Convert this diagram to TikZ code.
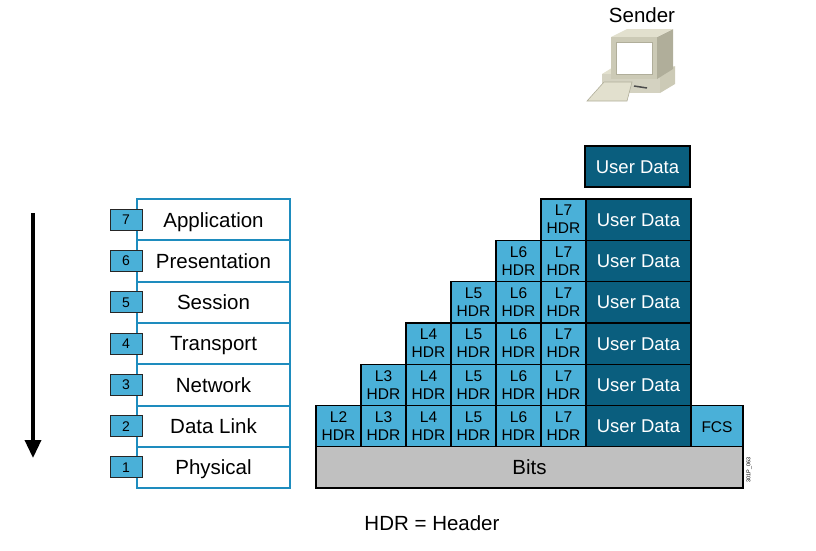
\documentclass[tikz,border=0pt]{standalone}
\usepackage{fontspec}
\setmainfont{Liberation Sans}
\usetikzlibrary{arrows.meta}
\definecolor{lblue}{RGB}{74,176,216}
\definecolor{dblue}{RGB}{10,94,126}
\definecolor{lborder}{RGB}{30,140,190}
\definecolor{bitsgray}{RGB}{192,192,192}
\definecolor{beigeA}{RGB}{226,224,206}
\definecolor{beigeB}{RGB}{204,202,182}
\definecolor{beigeC}{RGB}{176,174,154}
\begin{document}
\begin{tikzpicture}[x=1pt,y=-1pt,
  cell/.style={draw=black, line width=1.3pt, minimum width=45pt, minimum height=41.3pt,
    inner sep=0pt, outer sep=0pt, align=center, font=\fontsize{15.5}{18}\selectfont},
  hdrcell/.style={cell, fill=lblue},
  udcell/.style={cell, text height=13.2pt, text depth=0pt, fill=dblue, text=white,
    minimum width=105pt, font=\fontsize{18.5}{20}\selectfont},
  fcscell/.style={cell, text height=11.1pt, text depth=0pt, fill=lblue, minimum width=52pt,
    font=\fontsize{15.5}{17}\selectfont},
  bitscell/.style={cell, text height=14.7pt, text depth=0pt, fill=bitsgray, minimum width=427pt,
    font=\fontsize{20.5}{22}\selectfont},
  layerrow/.style={text height=14.7pt, text depth=0pt, draw=lborder, line width=2pt, fill=white,
    minimum width=153pt, minimum height=41.3pt, inner sep=0pt, outer sep=0pt,
    font=\fontsize{20.5}{22}\selectfont},
  numbox/.style={text height=10pt, text depth=0pt, draw=black!85, fill=lblue, line width=1pt,
    minimum width=32pt, minimum height=21pt, inner sep=0pt, font=\fontsize{14}{16}\selectfont},
  plain/.style={font=\fontsize{20.5}{22}\selectfont, inner sep=0pt}
]
\useasboundingbox (0,0) rectangle (816,550);

% OSI layer stack
\foreach \i/\name in {7/Application,6/Presentation,5/Session,4/Transport,3/Network,2/Data Link,1/Physical}{
  \pgfmathsetmacro{\yc}{199+(7-\i+0.5)*41.3}
  \node[layerrow] (layer\i) at (213.5,\yc) {\name};
}
\foreach \i in {7,6,5,4,3,2,1}{
  \pgfmathsetmacro{\yc}{199+(7-\i+0.5)*41.3}
  \node[numbox] (num\i) at (126,\yc) {\i};
}

% arrow
\coordinate (atop) at (33,213);
\coordinate (abot) at (33,458);
\draw[line width=3.5pt, -{Triangle[length=18pt,width=16pt]}] (atop) -- (abot);

% encapsulation grid
\node[udcell, minimum height=41pt] (udtop) at (637.5,166.5) {User Data};
\foreach \k in {7,6,5,4,3,2}{
  \pgfmathsetmacro{\yc}{199+(7-\k+0.5)*41.3}
  \foreach \j in {\k,...,7}{
    \pgfmathsetmacro{\xc}{338.5+(\j-2)*45}
    \node[hdrcell] (h\k\j) at (\xc,\yc) {L\j\\HDR};
  }
  \node[udcell] (ud\k) at (638.5,\yc) {User Data};
}
\node[fcscell] (fcs) at (717,426.45) {FCS};
\node[bitscell] (bits) at (529.5,467.45) {Bits};

% labels
\node[plain] (sender) at (642,15) {Sender};
\node[plain] (legend) at (432,523) {HDR = Header};
\node[font=\fontsize{5.5}{6}\selectfont, rotate=90, inner sep=0pt] (code) at (749,470) {301P\_063};

% sender computer icon
\fill[beigeB] (660,74) -- (675,66) -- (675,84) -- (660,93) -- cycle;
\fill[beigeA] (602,74) -- (615,66) -- (675,66) -- (660,74) -- cycle;
\fill[beigeB!85!white] (602,74) rectangle (660,93);
\draw[black!70, line width=1.5pt] (634,86) -- (647,88);
\fill[beigeA] (604,82) -- (632,82) -- (627,101) -- (587,101) -- cycle;
\draw[beigeC, line width=0.6pt] (604,82) -- (632,82) -- (627,101) -- (587,101) -- cycle;
\fill[beigeC] (657,37) -- (673,29) -- (673,69) -- (657,79) -- cycle;
\fill[beigeA] (611,37) -- (627,29) -- (673,29) -- (657,37) -- cycle;
\fill[beigeB] (611,37) rectangle (657,79);
\fill[white] (616,42) rectangle (652,74);
\draw[beigeC, line width=0.6pt] (616,42) rectangle (652,74);
\end{tikzpicture}
\end{document}
